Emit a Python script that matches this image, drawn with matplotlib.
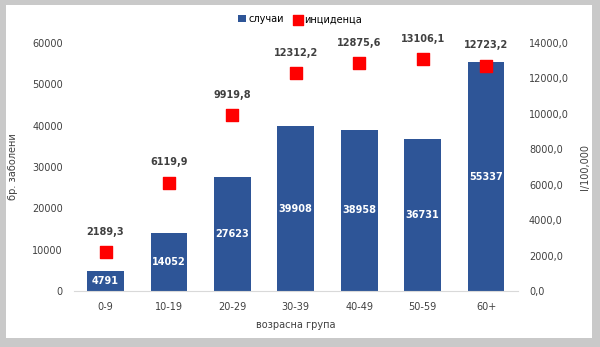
import matplotlib.pyplot as plt
from matplotlib.patches import Rectangle

# Случаи и инциденца по возрасни групи
groups = ['0-9', '10-19', '20-29', '30-39', '40-49', '50-59', '60+']
cases = [4791, 14052, 27623, 39908, 38958, 36731, 55337]
incidence = [2189.3, 6119.9, 9919.8, 12312.2, 12875.6, 13106.1, 12723.2]

bar_color = '#2E5597'
txt_color = '#404040'
plt.rcParams['font.family'] = 'DejaVu Sans'

fig = plt.figure(figsize=(6, 3.47), dpi=100, facecolor='#c9c9c9')
# бела површина во рамката
fig.patches.append(Rectangle((6 / 600, 9 / 347), 586 / 600, 333 / 347,
                             transform=fig.transFigure, facecolor='white',
                             edgecolor='none', zorder=-5))

ax = fig.add_axes([0.123, 0.1614, 0.74, 0.7147])
ax.set_facecolor('none')
x = range(len(groups))
bars = ax.bar(x, cases, width=0.58, color=bar_color, zorder=2, label='случаи')
# вредностите во средината на столбовите
for xi, v in zip(x, cases):
    ax.text(xi, v / 2, str(v), ha='center', va='center', color='white',
            fontsize=7, fontweight='bold', zorder=3)

ax.set_xlim(-0.5, len(groups) - 0.5)
ax.set_ylim(0, 60000)
ax.set_yticks(range(0, 60001, 10000))
ax.set_xticks(list(x))
ax.set_xticklabels(groups)
for s in ['top', 'right', 'left']:
    ax.spines[s].set_visible(False)
ax.spines['bottom'].set_color('#d9d9d9')
ax.tick_params(length=0, labelsize=7, colors=txt_color, pad=8)
ax.set_ylabel('бр. заболени', fontsize=7, color=txt_color, labelpad=10)
ax.set_xlabel('возрасна група', fontsize=7, color=txt_color, labelpad=6)

ax2 = ax.twinx()
ax2.set_ylim(0, 14000)
ax2.set_yticks(range(0, 14001, 2000))
ax2.set_yticklabels([f'{t},0' for t in range(0, 14001, 2000)])
for s in ['top', 'right', 'left', 'bottom']:
    ax2.spines[s].set_visible(False)
ax2.tick_params(length=0, labelsize=7, colors=txt_color, pad=8)
ax2.set_ylabel('I/100,000', fontsize=7, color=txt_color, rotation=90, labelpad=8)
pts = ax2.scatter(x, incidence, marker='s', s=75, color='#ff0000', zorder=4,
                  label='инциденца')
for xi, v in zip(x, incidence):
    ax2.annotate(f'{v:.1f}'.replace('.', ','), (xi, v), xytext=(0, 11),
                 textcoords='offset points', ha='center', va='bottom',
                 fontsize=7, fontweight='bold', color=txt_color)

fig.legend(handles=[bars, pts], labels=['случаи', 'инциденца'],
           loc='center', bbox_to_anchor=(0.5, 0.945), ncol=2, frameon=False,
           fontsize=7, handlelength=0.8, handletextpad=0.3, columnspacing=1.0,
           markerscale=0.8)

plt.savefig('out.png', dpi=100, facecolor=fig.get_facecolor())
